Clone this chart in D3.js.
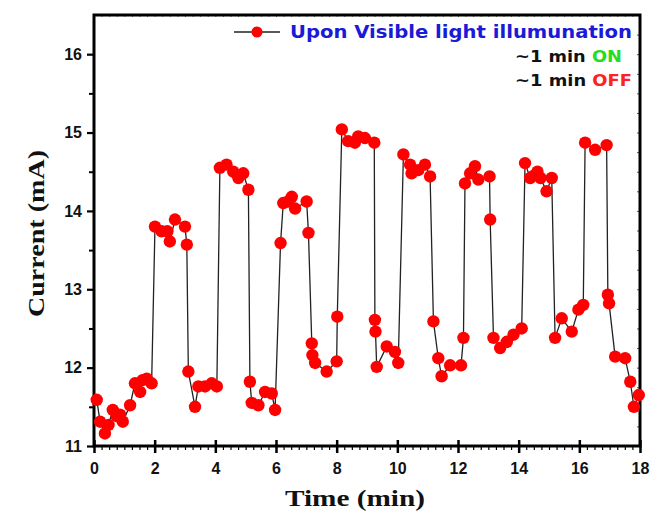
<!DOCTYPE html>
<html>
<head>
<meta charset="utf-8">
<script src="https://cdn.jsdelivr.net/npm/d3@7"></script>
<style>
  body { margin: 0; background: #fff; }
  svg { font-family: 'Liberation Sans', Arial, sans-serif; }
</style>
</head>
<body>
<div id="chart"></div>
<script>
// time (min) and current (mA)
const time = [
  0.09, 0.2, 0.36, 0.48, 0.62, 0.75, 0.86, 0.95, 1.19, 1.35, 1.52, 1.6, 1.74, 1.9,
  2.01, 2.23, 2.42, 2.5, 2.67, 3.0, 3.06,
  3.11, 3.33, 3.44, 3.66, 3.88, 4.05,
  4.15, 4.37, 4.59, 4.76, 4.92, 5.09,
  5.14, 5.2, 5.42, 5.64, 5.86, 5.97,
  6.15, 6.24, 6.4, 6.52, 6.63, 7.01, 7.07,
  7.18, 7.2, 7.29, 7.67, 8.0, 8.02,
  8.17, 8.38, 8.6, 8.71, 8.93, 9.24,
  9.26, 9.28, 9.32, 9.65, 9.92, 10.03,
  10.2, 10.42, 10.47, 10.69, 10.91, 11.08,
  11.19, 11.35, 11.46, 11.74, 12.1, 12.18,
  12.23, 12.4, 12.56, 12.67, 13.04, 13.06,
  13.17, 13.39, 13.61, 13.83, 14.1,
  14.21, 14.38, 14.5, 14.62, 14.72, 14.92, 15.09,
  15.2, 15.42, 15.75, 15.97, 16.13,
  16.19, 16.52, 16.9, 16.94, 16.98,
  17.18, 17.51, 17.68, 17.8, 17.96
]
const current = [
  11.59, 11.31, 11.16, 11.27, 11.46, 11.38, 11.4, 11.31, 11.52, 11.8, 11.69, 11.84, 11.86, 11.8,
  13.8, 13.74, 13.74, 13.61, 13.89, 13.8, 13.57,
  11.95, 11.5, 11.76, 11.76, 11.8, 11.76,
  14.55, 14.59, 14.5, 14.42, 14.48, 14.27,
  11.82, 11.55, 11.52, 11.69, 11.67, 11.46,
  13.59, 14.1, 14.12, 14.18, 14.03, 14.12, 13.72,
  12.31, 12.16, 12.06, 11.95, 12.08, 12.65,
  15.04, 14.89, 14.87, 14.95, 14.93, 14.87,
  12.61, 12.46, 12.01, 12.27, 12.2, 12.06,
  14.72, 14.59, 14.48, 14.52, 14.59, 14.44,
  12.59, 12.12, 11.89, 12.03, 12.03, 12.38,
  14.35, 14.48, 14.57, 14.4, 14.44, 13.89,
  12.38, 12.25, 12.33, 12.42, 12.5,
  14.61, 14.42, 14.45, 14.5, 14.42, 14.25, 14.42,
  12.38, 12.63, 12.46, 12.74, 12.8,
  14.87, 14.78, 14.84, 12.93, 12.82,
  12.14, 12.12, 11.82, 11.5, 11.65
]
const xTicks = [0, 2, 4, 6, 8, 10, 12, 14, 16, 18]
const yTicks = [11, 12, 13, 14, 15, 16]

const points = time.map((t, i) => ({ t: t, v: current[i] }))

const W = 652
const H = 514
const plot = { left: 94, right: 640, top: 15, bottom: 446 }
const serif = "'Liberation Serif', 'Times New Roman', serif"
const wide = "'DejaVu Sans', Verdana, sans-serif"

const svg = d3.select('#chart').append('svg')
  .attr('width', W)
  .attr('height', H)

const x = d3.scaleLinear().domain([0, 18]).range([plot.left, plot.right])
const y = d3.scaleLinear().domain([11, 16.5]).range([plot.bottom, plot.top])

// bottom axis: majors cross the line, minors point down
const xMinor = d3.range(0, 18.01, 0.25).filter(d => d % 2 !== 0)
svg.append('g')
  .attr('transform', 'translate(0,' + plot.bottom + ')')
  .call(d3.axisBottom(x).tickValues(xMinor).tickSize(4).tickFormat(''))
  .call(g => g.select('.domain').remove())
  .call(g => g.selectAll('line').attr('stroke-width', 1.2))
svg.append('g')
  .attr('class', 'x-axis')
  .attr('transform', 'translate(0,' + plot.bottom + ')')
  .call(d3.axisBottom(x).tickValues(xTicks).tickSize(7).tickPadding(10).tickFormat(d3.format('d')))
  .call(g => g.select('.domain').remove())
  .call(g => g.selectAll('line').attr('y1', -6).attr('stroke-width', 2.5))
  .call(g => g.selectAll('text').attr('font-size', 16).attr('font-weight', 'bold').attr('fill', '#111'))

// left axis
const yMinor = d3.range(11.5, 16.5, 1)
svg.append('g')
  .attr('transform', 'translate(' + plot.left + ',0)')
  .call(d3.axisLeft(y).tickValues(yMinor).tickSize(5).tickFormat(''))
  .call(g => g.select('.domain').remove())
  .call(g => g.selectAll('line').attr('stroke-width', 2))
svg.append('g')
  .attr('transform', 'translate(' + plot.left + ',0)')
  .call(d3.axisLeft(y).tickValues(yTicks).tickSize(7).tickPadding(5).tickFormat(d3.format('d')))
  .call(g => g.select('.domain').remove())
  .call(g => g.selectAll('line').attr('stroke-width', 2.2))
  .call(g => g.selectAll('text').attr('font-size', 16).attr('font-weight', 'bold').attr('fill', '#111'))

// small inner ticks on top and right
svg.append('g')
  .attr('transform', 'translate(' + plot.right + ',0)')
  .call(d3.axisLeft(y).tickValues(d3.range(11, 16.5, 0.25)).tickSize(3).tickFormat(''))
  .call(g => g.select('.domain').remove())
  .call(g => g.selectAll('line').attr('stroke', '#555'))
svg.append('g')
  .attr('transform', 'translate(0,' + plot.top + ')')
  .call(d3.axisBottom(x).tickValues(d3.range(0, 18, 0.25)).tickSize(2).tickFormat(''))
  .call(g => g.select('.domain').remove())
  .call(g => g.selectAll('line').attr('stroke', '#777'))

// frame
svg.append('rect')
  .attr('x', plot.left)
  .attr('y', plot.top)
  .attr('width', plot.right - plot.left)
  .attr('height', plot.bottom - plot.top)
  .attr('fill', 'none')
  .attr('stroke', '#000')
  .attr('stroke-width', 3)

// data
const line = d3.line().x(d => x(d.t)).y(d => y(d.v))
svg.append('path')
  .datum(points)
  .attr('d', line)
  .attr('fill', 'none')
  .attr('stroke', '#222')
  .attr('stroke-width', 1.3)

svg.selectAll('circle.pt')
  .data(points)
  .enter()
  .append('circle')
  .attr('class', 'pt')
  .attr('cx', d => x(d.t))
  .attr('cy', d => y(d.v))
  .attr('r', 6.2)
  .attr('fill', '#ff0000')

// legend
svg.append('line')
  .attr('x1', 234).attr('x2', 280)
  .attr('y1', 32).attr('y2', 32)
  .attr('stroke', '#222').attr('stroke-width', 1.5)
svg.append('circle')
  .attr('cx', 257).attr('cy', 32).attr('r', 5.5)
  .attr('fill', '#ff0000')
svg.append('text')
  .attr('x', 290).attr('y', 38)
  .style('font-family', wide)
  .attr('font-size', 17)
  .attr('font-weight', 'bold')
  .attr('fill', '#1a1ad8')
  .attr('textLength', 342)
  .attr('lengthAdjust', 'spacingAndGlyphs')
  .text('Upon Visible light illumunation')

const on = svg.append('text')
  .attr('x', 515).attr('y', 62)
  .style('font-family', wide)
  .attr('font-size', 15)
  .attr('font-weight', 'bold')
  .attr('fill', '#111')
  .attr('textLength', 107)
  .attr('lengthAdjust', 'spacingAndGlyphs')
on.append('tspan').text('~1 min ')
on.append('tspan').attr('fill', '#22dd22').text('ON')

const off = svg.append('text')
  .attr('x', 515).attr('y', 86)
  .style('font-family', wide)
  .attr('font-size', 15)
  .attr('font-weight', 'bold')
  .attr('fill', '#111')
  .attr('textLength', 117)
  .attr('lengthAdjust', 'spacingAndGlyphs')
off.append('tspan').text('~1 min ')
off.append('tspan').attr('fill', '#ff2020').text('OFF')

// axis titles
svg.append('text')
  .attr('x', 285)
  .attr('y', 506)
  .style('font-family', serif)
  .attr('font-size', 24)
  .attr('font-weight', 'bold')
  .attr('fill', '#111')
  .attr('textLength', 140)
  .attr('lengthAdjust', 'spacingAndGlyphs')
  .text('Time (min)')

svg.append('text')
  .attr('transform', 'translate(44,317) rotate(-90)')
  .style('font-family', serif)
  .attr('font-size', 24)
  .attr('font-weight', 'bold')
  .attr('fill', '#111')
  .attr('textLength', 167)
  .attr('lengthAdjust', 'spacingAndGlyphs')
  .text('Current (mA)')
</script>
</body>
</html>
